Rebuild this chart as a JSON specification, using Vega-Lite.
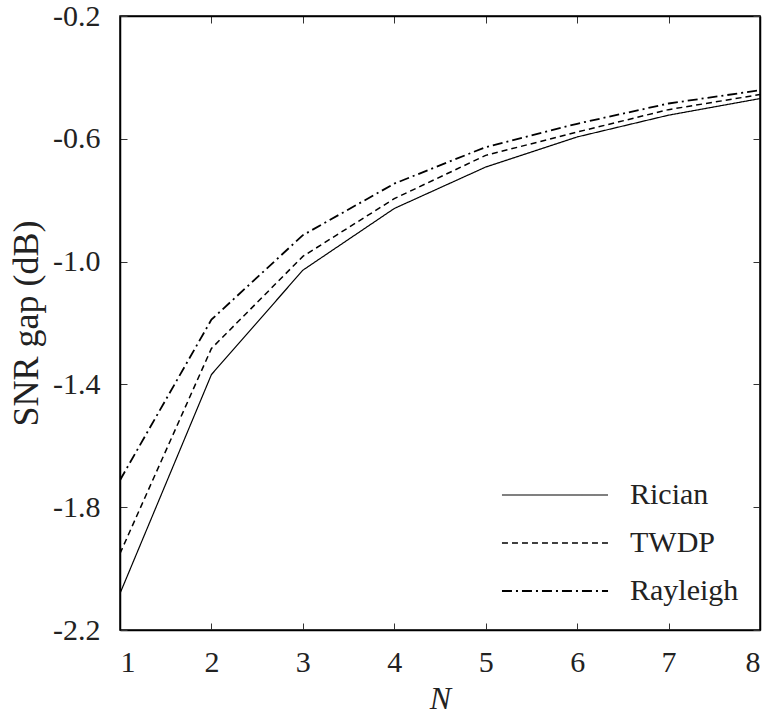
{
  "$schema": "https://vega.github.io/schema/vega-lite/v6.json",
  "width": 640,
  "height": 614,
  "autosize": {"type": "none"},
  "padding": {"left": 120, "top": 16, "right": 8, "bottom": 87},
  "background": "white",
  "config": {
    "font": "Liberation Serif",
    "view": {"stroke": "black", "strokeWidth": 1.5},
    "axis": {"grid": false, "domainColor": "black", "domainWidth": 1.5, "tickColor": "#333", "tickWidth": 1, "labelColor": "#222", "titleColor": "#222", "labelFont": "Liberation Serif", "titleFont": "Liberation Serif"},
    "legend": {
      "orient": "none",
      "legendX": 420,
      "legendY": 464,
      "title": null,
      "symbolType": "M-5,0H5",
      "symbolSize": 450,
      "symbolStrokeColor": "black",
      "symbolStrokeWidth": 1.6,
      "labelFontSize": 30,
      "labelFont": "Liberation Serif",
      "labelColor": "#222",
      "labelOffset": 60,
      "rowPadding": 18
    }
  },
  "data": {
    "values": [
      {"N": 1, "gap": -2.081, "model": "Rician"},
      {"N": 2, "gap": -1.368, "model": "Rician"},
      {"N": 3, "gap": -1.028, "model": "Rician"},
      {"N": 4, "gap": -0.827, "model": "Rician"},
      {"N": 5, "gap": -0.692, "model": "Rician"},
      {"N": 6, "gap": -0.594, "model": "Rician"},
      {"N": 7, "gap": -0.523, "model": "Rician"},
      {"N": 8, "gap": -0.469, "model": "Rician"},
      {"N": 1, "gap": -1.951, "model": "TWDP"},
      {"N": 2, "gap": -1.283, "model": "TWDP"},
      {"N": 3, "gap": -0.983, "model": "TWDP"},
      {"N": 4, "gap": -0.795, "model": "TWDP"},
      {"N": 5, "gap": -0.654, "model": "TWDP"},
      {"N": 6, "gap": -0.578, "model": "TWDP"},
      {"N": 7, "gap": -0.505, "model": "TWDP"},
      {"N": 8, "gap": -0.456, "model": "TWDP"},
      {"N": 1, "gap": -1.712, "model": "Rayleigh"},
      {"N": 2, "gap": -1.189, "model": "Rayleigh"},
      {"N": 3, "gap": -0.914, "model": "Rayleigh"},
      {"N": 4, "gap": -0.746, "model": "Rayleigh"},
      {"N": 5, "gap": -0.627, "model": "Rayleigh"},
      {"N": 6, "gap": -0.551, "model": "Rayleigh"},
      {"N": 7, "gap": -0.485, "model": "Rayleigh"},
      {"N": 8, "gap": -0.442, "model": "Rayleigh"}
    ]
  },
  "layer": [
    {
      "mark": {"type": "line", "color": "black", "clip": true},
      "encoding": {
        "x": {
          "field": "N", "type": "quantitative",
          "scale": {"domain": [1, 8], "nice": false, "zero": false},
          "axis": {
            "orient": "bottom", "values": [1, 2, 3, 4, 5, 6, 7, 8], "format": "d",
            "tickSize": -7, "labelPadding": 24, "labelFontSize": 30,
            "title": "N", "titleFontSize": 32, "titleFontStyle": "italic", "titleFontWeight": "normal",
            "titleX": 320, "titleY": 78, "titleBaseline": "alphabetic"
          }
        },
        "y": {
          "field": "gap", "type": "quantitative",
          "scale": {"domain": [-2.2, -0.2], "nice": false, "zero": false},
          "axis": {
            "orient": "left", "values": [-2.2, -1.8, -1.4, -1.0, -0.6, -0.2],
            "labelExpr": "(datum.value < 0 ? '-' : '') + format(abs(datum.value), '.1f')",
            "tickSize": -7, "labelPadding": 27, "labelFontSize": 30,
            "title": "SNR gap (dB)", "titleFontSize": 36, "titleFontWeight": "normal",
            "titleAngle": -90, "titleX": -83, "titleY": 307, "titleAlign": "center", "titleBaseline": "alphabetic"
          }
        },
        "strokeDash": {
          "field": "model", "type": "nominal",
          "scale": {"domain": ["Rician", "TWDP", "Rayleigh"], "range": [[1, 0], [6, 4], [10, 4, 2, 4]]}
        },
        "strokeWidth": {
          "field": "model", "type": "nominal",
          "scale": {"domain": ["Rician", "TWDP", "Rayleigh"], "range": [1.2, 1.8, 1.8]}
        }
      }
    },
    {
      "mark": {"type": "line", "opacity": 0},
      "encoding": {
        "x": {
          "field": "N", "type": "quantitative",
          "axis": {"orient": "top", "values": [1, 2, 3, 4, 5, 6, 7, 8], "labels": false, "tickSize": -7, "title": null}
        },
        "y": {
          "field": "gap", "type": "quantitative",
          "axis": {"orient": "right", "values": [-2.2, -1.8, -1.4, -1.0, -0.6, -0.2], "labels": false, "tickSize": -7, "title": null}
        },
        "detail": {"field": "model", "type": "nominal"}
      }
    }
  ],
  "resolve": {"axis": {"x": "independent", "y": "independent"}}
}
